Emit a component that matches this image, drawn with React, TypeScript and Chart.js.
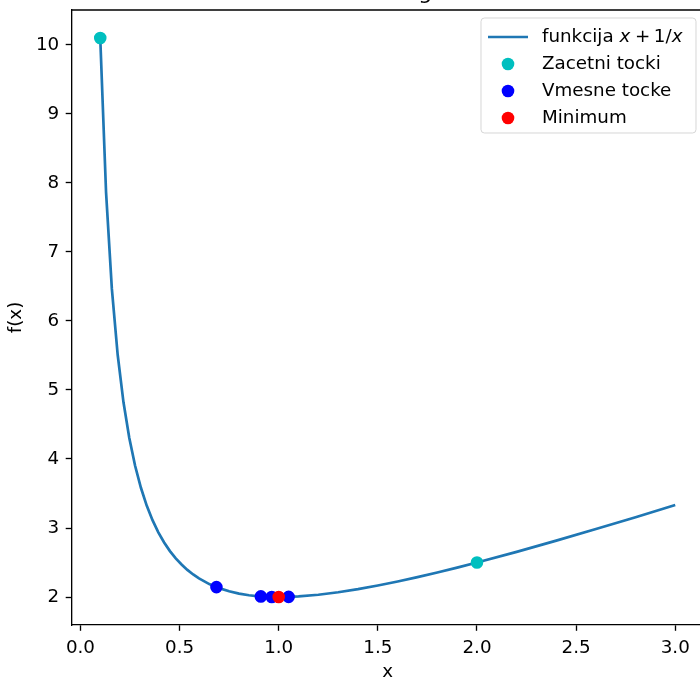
import React, { useEffect, useRef } from "react";
import { Chart, registerables } from "chart.js";

Chart.register(...registerables);

const titleText = "Metoda zlatega reza";
const xLabel = "x";
const yLabel = "f(x)";

const curveX = [
  0.1, 0.1293, 0.1586, 0.1879, 0.2172, 0.2465, 0.2758, 0.3051, 0.3343, 0.3636,
  0.3929, 0.4222, 0.4515, 0.4808, 0.5101, 0.5394, 0.5687, 0.598, 0.65, 0.7,
  0.75, 0.8, 0.85, 0.9, 0.95, 1.0, 1.05, 1.1, 1.2, 1.3, 1.4, 1.5, 1.6, 1.7,
  1.8, 1.9, 2.0, 2.2, 2.4, 2.6, 2.8, 3.0,
];
const curveY = [
  10.1, 7.863, 6.464, 5.51, 4.821, 4.303, 3.902, 3.583, 3.325, 3.114,
  2.938, 2.791, 2.666, 2.561, 2.471, 2.393, 2.327, 2.27, 2.188, 2.129,
  2.083, 2.05, 2.026, 2.011, 2.003, 2.0, 2.002, 2.009, 2.033, 2.069, 2.114,
  2.167, 2.225, 2.288, 2.356, 2.426, 2.5, 2.655, 2.817, 2.985, 3.157, 3.333,
];

const startX = [0.1, 2.0];
const startY = [10.1, 2.5];

const midX = [0.686, 0.91, 0.965, 1.05];
const midY = [2.144, 2.009, 2.001, 2.002];

const minX = [1.0];
const minY = [2.0];

const xTicks = [0.0, 0.5, 1.0, 1.5, 2.0, 2.5, 3.0];
const yTicks = [2, 3, 4, 5, 6, 7, 8, 9, 10];

const legendLabels = ["funkcija", "Zacetni tocki", "Vmesne tocke", "Minimum"];

const LINE_COLOR = "#1f77b4";
const START_COLOR = "#00bfbf";
const MID_COLOR = "#0000ff";
const MIN_COLOR = "#ff0000";
const FONT = '"DejaVu Sans", sans-serif';
const FS = 18.3;
const SHIFT = 20;
const CW = 740;
const CH = 699;

const toPts = (xs: number[], ys: number[]) => xs.map((x, i) => ({ x, y: ys[i] }));

const overlayPlugin = {
  id: "overlay",
  afterDraw(chart: any) {
    const ctx = chart.ctx as CanvasRenderingContext2D;
    const a = chart.chartArea;
    ctx.save();
    ctx.strokeStyle = "#000";
    ctx.lineWidth = 1.33;
    ctx.beginPath();
    ctx.moveTo(a.left, a.top);
    ctx.lineTo(a.right, a.top);
    ctx.lineTo(a.right, a.bottom);
    ctx.stroke();

    // title (mostly cut off above the visible area)
    ctx.fillStyle = "#000";
    ctx.font = `22px ${FONT}`;
    ctx.textAlign = "center";
    ctx.textBaseline = "alphabetic";
    ctx.fillText(titleText, (a.left + a.right) / 2, a.top - 11);

    // x label
    ctx.font = `${FS}px ${FONT}`;
    ctx.fillText(xLabel, (a.left + a.right) / 2, 677 + SHIFT);

    // y label
    ctx.save();
    ctx.translate(16, (a.top + a.bottom) / 2);
    ctx.rotate(-Math.PI / 2);
    ctx.textBaseline = "middle";
    ctx.fillText(yLabel, 0, 0);
    ctx.restore();

    // legend
    const bx = 481, by = 18 + SHIFT, bw = 215, bh = 115, r = 3.5;
    ctx.beginPath();
    ctx.moveTo(bx + r, by);
    ctx.lineTo(bx + bw - r, by);
    ctx.arcTo(bx + bw, by, bx + bw, by + r, r);
    ctx.lineTo(bx + bw, by + bh - r);
    ctx.arcTo(bx + bw, by + bh, bx + bw - r, by + bh, r);
    ctx.lineTo(bx + r, by + bh);
    ctx.arcTo(bx, by + bh, bx, by + bh - r, r);
    ctx.lineTo(bx, by + r);
    ctx.arcTo(bx, by, bx + r, by, r);
    ctx.closePath();
    ctx.fillStyle = "rgba(255,255,255,0.8)";
    ctx.fill();
    ctx.strokeStyle = "rgba(204,204,204,0.8)";
    ctx.lineWidth = 1;
    ctx.stroke();

    const rows = [37, 64, 91, 118].map((y) => y + SHIFT);
    const textX = 542;
    ctx.strokeStyle = LINE_COLOR;
    ctx.lineWidth = 2.7;
    ctx.beginPath();
    ctx.moveTo(488, rows[0]);
    ctx.lineTo(528, rows[0]);
    ctx.stroke();
    const colors = [START_COLOR, MID_COLOR, MIN_COLOR];
    for (let i = 0; i < 3; i++) {
      ctx.fillStyle = colors[i];
      ctx.beginPath();
      ctx.arc(508, rows[i + 1], 6.3, 0, Math.PI * 2);
      ctx.fill();
    }
    ctx.fillStyle = "#000";
    ctx.textAlign = "left";
    ctx.textBaseline = "middle";
    const normal = `${FS}px ${FONT}`;
    const italic = `oblique ${FS}px ${FONT}`;
    let x = textX;
    const pieces: [string, string][] = [
      [legendLabels[0] + " ", normal],
      ["x", italic],
      ["\u2009+\u2009", normal],
      ["1/", normal],
      ["x", italic],
    ];
    for (const [t, f] of pieces) {
      ctx.font = f;
      ctx.fillText(t, x, rows[0]);
      x += ctx.measureText(t).width;
      if (t === "x" && f === italic) x += 1;
    }
    ctx.font = normal;
    for (let i = 1; i < 4; i++) ctx.fillText(legendLabels[i], textX, rows[i]);
    ctx.restore();
  },
};

export default function App() {
  const ref = useRef<HTMLCanvasElement | null>(null);
  useEffect(() => {
    const canvas = ref.current;
    if (!canvas) return;
    const tickFont = { family: FONT, size: FS };
    const pointStyle = (color: string, order: number) => ({
      backgroundColor: color,
      borderColor: color,
      pointRadius: 5.3,
      pointBorderWidth: 2,
      order,
    });
    const chart = new Chart(canvas, {
      type: "scatter",
      data: {
        datasets: [
          {
            label: "funkcija",
            data: toPts(curveX, curveY),
            showLine: true,
            borderColor: LINE_COLOR,
            borderWidth: 2.7,
            pointRadius: 0,
            tension: 0,
            order: 10,
          },
          { label: "Zacetni tocki", data: toPts(startX, startY), ...pointStyle(START_COLOR, 3) },
          { label: "Vmesne tocke", data: toPts(midX, midY), ...pointStyle(MID_COLOR, 2) },
          { label: "Minimum", data: toPts(minX, minY), ...pointStyle(MIN_COLOR, 1) },
        ],
      },
      options: {
        responsive: false,
        animation: false,
        devicePixelRatio: 1,
        events: [],
        layout: { padding: { left: 0, top: 30, right: CW - 704, bottom: 0 } },
        plugins: { legend: { display: false }, tooltip: { enabled: false }, title: { display: false } },
        scales: {
          x: {
            type: "linear",
            min: -0.045,
            max: 3.145,
            afterFit: (s: any) => {
              s.height = CH - 645;
            },
            afterBuildTicks: (s: any) => {
              s.ticks = xTicks.map((v) => ({ value: v }));
            },
            ticks: {
              autoSkip: false,
              maxRotation: 0,
              color: "#000",
              font: tickFont,
              padding: 6,
              callback: (v: any) => Number(v).toFixed(1),
            },
            grid: { display: true, drawOnChartArea: false, drawTicks: true, tickLength: 5.8, tickColor: "#000", tickWidth: 1.33 },
            border: { display: true, color: "#000", width: 1.33 },
          },
          y: {
            type: "linear",
            min: 1.595,
            max: 10.505,
            afterFit: (s: any) => {
              s.width = 71.5;
            },
            afterBuildTicks: (s: any) => {
              s.ticks = yTicks.map((v) => ({ value: v }));
            },
            ticks: {
              autoSkip: false,
              color: "#000",
              font: tickFont,
              padding: 6.5,
              callback: (v: any) => String(v),
            },
            grid: { display: true, drawOnChartArea: false, drawTicks: true, tickLength: 5.8, tickColor: "#000", tickWidth: 1.33 },
            border: { display: true, color: "#000", width: 1.33 },
          },
        },
      },
      plugins: [overlayPlugin],
    } as any);
    return () => chart.destroy();
  }, []);
  return (
    <div style={{ position: "fixed", left: 0, top: 0, width: 700, height: 679, overflow: "hidden", background: "#fff" }}>
      <canvas
        ref={ref}
        width={CW}
        height={CH}
        style={{ position: "absolute", left: 0, top: -SHIFT, width: CW, height: CH }}
      />
    </div>
  );
}
